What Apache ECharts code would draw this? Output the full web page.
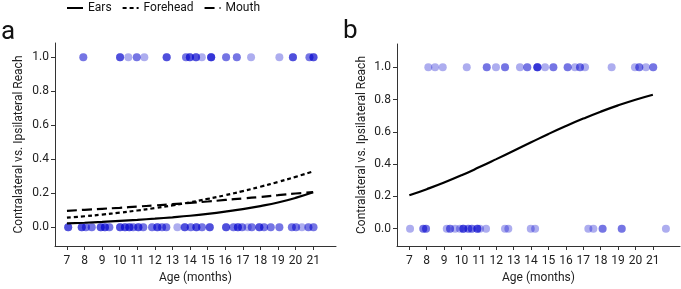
<!DOCTYPE html>
<html>
<head>
<meta charset="utf-8">
<script src="https://cdn.jsdelivr.net/npm/echarts@6/dist/echarts.min.js"></script>
<style>
  html, body { margin: 0; padding: 0; background: #fff; }
  #chart { width: 681px; height: 289px; }
</style>
</head>
<body>
<div id="chart"></div>
<script>
// fitted curves at each month
const months = [7, 8, 9, 10, 11, 12, 13, 14, 15, 16, 17, 18, 19, 20, 21];
const earsFit = [0.022, 0.026, 0.031, 0.037, 0.043, 0.050, 0.058, 0.067, 0.078, 0.091, 0.106, 0.124, 0.145, 0.172, 0.205];
const foreheadFit = [0.056, 0.064, 0.074, 0.085, 0.098, 0.112, 0.128, 0.146, 0.166, 0.188, 0.212, 0.238, 0.266, 0.296, 0.328];
const mouthFit = [0.096, 0.102, 0.108, 0.114, 0.121, 0.128, 0.135, 0.143, 0.151, 0.160, 0.169, 0.178, 0.188, 0.198, 0.206];
const reachFit = [0.207, 0.245, 0.286, 0.331, 0.380, 0.431, 0.483, 0.535, 0.587, 0.636, 0.682, 0.725, 0.764, 0.799, 0.830];

// raw trials (age in months), repeated ages = several infants
const aYesAges = [7.93, 7.93, 10.02, 10.02, 10.02, 10.49, 10.97, 10.97, 11.40, 12.67, 12.67, 12.67,
  13.77, 13.77, 13.99, 13.99, 13.99, 14.34, 14.34, 14.34, 14.67, 15.20, 15.20, 15.20, 15.20,
  16.05, 16.05, 16.66, 16.66, 17.47, 19.08, 19.85, 19.85, 19.85, 20.79, 20.79, 21.02, 21.02, 21.02];
const aNoAges = [7.07, 7.07, 7.07, 7.84, 7.84, 7.84, 8.08, 8.08, 8.41, 8.41, 8.92, 8.92, 8.92,
  9.16, 9.16, 9.16, 9.41, 9.41, 10.02, 10.02, 10.02, 10.30, 10.30, 10.30, 10.55, 10.55, 10.55,
  10.77, 10.77, 11.06, 11.06, 11.06, 11.34, 11.34, 11.84, 11.84, 12.14, 12.14, 12.14, 12.41, 12.41,
  12.65, 12.65, 13.28, 13.70, 13.70, 13.70, 14.04, 14.04, 14.36, 14.36, 14.36, 14.68, 14.68,
  15.12, 15.12, 15.12, 16.05, 16.05, 16.05, 16.47, 16.47, 16.72, 16.72, 16.72, 16.96, 16.96,
  17.28, 17.51, 17.51, 17.94, 17.94, 17.94, 18.21, 18.21, 18.59, 18.59, 19.08, 19.08,
  19.79, 19.79, 20.03, 20.03, 20.36, 20.73, 20.73, 21.02, 21.02];
const bYesAges = [8.09, 8.48, 8.92, 10.30, 11.45, 11.45, 11.98, 12.50, 12.50, 13.36, 13.78, 13.78,
  14.36, 14.36, 14.36, 14.36, 14.80, 15.28, 15.28, 16.10, 16.10, 16.52, 16.81, 16.81, 17.10,
  18.63, 19.97, 20.22, 20.22, 20.60, 21.02, 21.02];
const bNoAges = [7.04, 7.80, 7.80, 7.96, 7.96, 9.15, 9.34, 9.34, 9.63, 9.91, 10.10, 10.10, 10.10,
  10.39, 10.39, 10.59, 10.59, 10.91, 10.91, 10.91, 11.06, 11.41, 12.50, 12.69, 13.98, 14.23,
  17.29, 17.58, 18.11, 18.11, 19.21, 19.21, 21.75];

const yTicks = [0, 0.2, 0.4, 0.6, 0.8, 1.0];
const xTicks = months;

const font = "Roboto, sans-serif";
const dotColor = "rgba(0,0,205,0.32)";

const myChart = echarts.init(document.getElementById("chart"), null, { renderer: "canvas" });

function pairs(xs, ys) {
  return xs.map((x, i) => [x, ys[i]]);
}
function dots(ages, v) {
  return ages.map(a => [a, v]);
}

function xAxisFor(gridIndex, min, max) {
  return {
    type: "value", gridIndex: gridIndex, min: min, max: max,
    name: "Age (months)", nameLocation: "middle", nameGap: 26,
    nameTextStyle: { fontFamily: font, fontSize: 12, color: "#222" },
    axisLine: { show: true, onZero: false, lineStyle: { color: "#333", width: 1 } },
    axisTick: { show: true, length: 4, customValues: xTicks, lineStyle: { color: "#333" } },
    axisLabel: { customValues: xTicks, margin: 9, fontFamily: font, fontSize: 12, color: "#222" },
    splitLine: { show: false }
  };
}
function yAxisFor(gridIndex, min, max, gap) {
  return {
    type: "value", gridIndex: gridIndex, min: min, max: max,
    name: "Contralateral vs. Ipsilateral Reach", nameLocation: "middle", nameGap: gap,
    nameTextStyle: { fontFamily: font, fontSize: 12, color: "#222" },
    axisLine: { show: true, onZero: false, lineStyle: { color: "#333", width: 1 } },
    axisTick: { show: true, length: 4, customValues: yTicks, lineStyle: { color: "#333" } },
    axisLabel: { customValues: yTicks, margin: 6, fontFamily: font, fontSize: 12, color: "#222",
      formatter: v => v.toFixed(1) },
    splitLine: { show: false }
  };
}

function fitLine(name, ys, type, axis) {
  return {
    name: name, type: "line", smooth: true, symbol: "none", showSymbol: false,
    xAxisIndex: axis, yAxisIndex: axis, data: pairs(months, ys), silent: true, z: 3,
    itemStyle: { color: "#000" },
    lineStyle: { color: "#000", width: 2.2, type: type }
  };
}
function dotSeries(name, ages, v, axis) {
  return {
    name: name, type: "scatter", symbolSize: 8, xAxisIndex: axis, yAxisIndex: axis,
    data: dots(ages, v), silent: true, z: 2,
    itemStyle: { color: dotColor, opacity: 1 }
  };
}

const option = {
  animation: false,
  backgroundColor: "#fff",
  legend: {
    data: ["Ears", "Forehead", "Mouth"],
    left: 66, top: 2, padding: 0, itemWidth: 16, itemHeight: 10, itemGap: 10,
    itemStyle: { opacity: 0 },
    textStyle: { fontFamily: font, fontSize: 12, color: "#111" }
  },
  graphic: [
    { type: "text", left: 1, top: 19, style: { text: "a", font: "26px " + font, fill: "#111" } },
    { type: "text", left: 343, top: 18, style: { text: "b", font: "26px " + font, fill: "#111" } }
  ],
  grid: [
    { left: 55, top: 43, width: 281, height: 207, containLabel: false },
    { left: 397, top: 44, width: 283, height: 205, containLabel: false }
  ],
  xAxis: [xAxisFor(0, 6.32, 22.3), xAxisFor(1, 6.29, 22.56)],
  yAxis: [yAxisFor(0, -0.111, 1.084, 30), yAxisFor(1, -0.107, 1.144, 29)],
  series: [
    dotSeries("a yes", aYesAges, 1, 0),
    dotSeries("a no", aNoAges, 0, 0),
    fitLine("Ears", earsFit, "solid", 0),
    fitLine("Forehead", foreheadFit, [4, 3], 0),
    fitLine("Mouth", mouthFit, [10, 5], 0),
    dotSeries("b yes", bYesAges, 1, 1),
    dotSeries("b no", bNoAges, 0, 1),
    fitLine("Reach", reachFit, "solid", 1)
  ]
};

myChart.setOption(option);
</script>
</body>
</html>
